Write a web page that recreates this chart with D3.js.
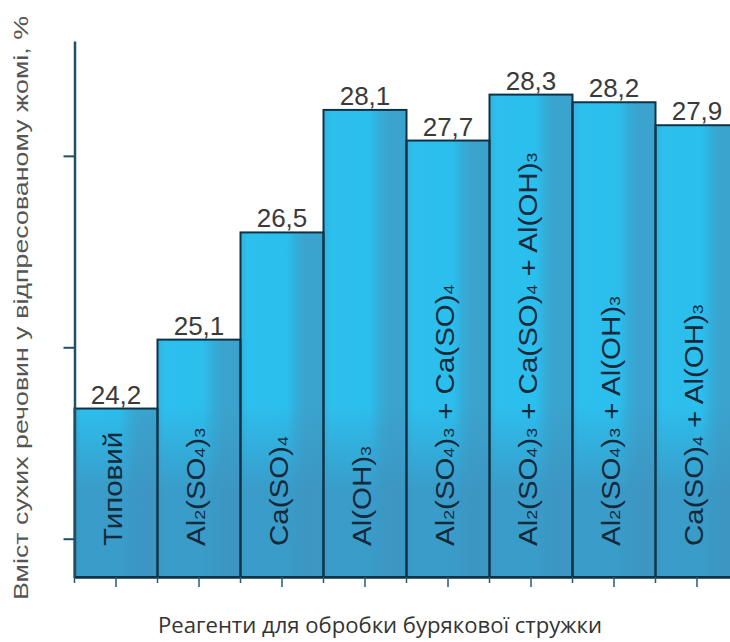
<!DOCTYPE html>
<html><head><meta charset="utf-8">
<script src="https://cdn.jsdelivr.net/npm/d3@7"></script>
<style>html,body{margin:0;padding:0;background:#fff;}svg{display:block;}</style>
</head><body>
<svg id="c" width="730" height="642"></svg>
<script>
// ---- data ----
const categories = [
  "Типовий",
  "Al_2(SO_4)_3",
  "Ca(SO)_4",
  "Al(OH)_3",
  "Al_2(SO_4)_3 + Ca(SO)_4",
  "Al_2(SO_4)_3 + Ca(SO)_4 + Al(OH)_3",
  "Al_2(SO_4)_3 + Al(OH)_3",
  "Ca(SO)_4 + Al(OH)_3"
];
const values = [24.2, 25.1, 26.5, 28.1, 27.7, 28.3, 28.2, 27.9];
const valueLabels = ["24,2", "25,1", "26,5", "28,1", "27,7", "28,3", "28,2", "27,9"];
const yDomain = [22, 29];
const yTicks = [22.5, 25, 27.5];
const yTitle = "Вміст сухих речовин у відпресованому жомі, %";
const xTitle = "Реагенти для обробки бурякової стружки";

// ---- layout ----
const svg = d3.select("#c");
const x0 = 74.5, bw = 83, yTop = 41, yBot = 577;
const idx = d3.range(categories.length);
const x = d3.scaleBand().domain(idx).range([x0, x0 + bw * categories.length]).padding(0);
const y = d3.scaleLinear().domain(yDomain).range([yBot, yTop]);

const defs = svg.append("defs");
const hg = defs.append("linearGradient").attr("id", "hg").attr("x1", 0).attr("x2", 1).attr("y1", 0).attr("y2", 0);
[[0, "#34b0dc"], [0.08, "#2dbfee"], [0.55, "#2bbfee"], [0.68, "#34acd8"], [0.78, "#3aa4cf"], [1, "#3ba2cc"]]
  .forEach(([o, c]) => hg.append("stop").attr("offset", o).attr("stop-color", c));
const vg = defs.append("linearGradient").attr("id", "vg").attr("gradientUnits", "userSpaceOnUse")
  .attr("x1", 0).attr("x2", 0).attr("y1", 405).attr("y2", 490);
vg.append("stop").attr("offset", 0).attr("stop-color", "#3d93c0").attr("stop-opacity", 0);
vg.append("stop").attr("offset", 1).attr("stop-color", "#3d93c0").attr("stop-opacity", 0.8);

// bars
const bars = svg.append("g");
bars.selectAll("rect.b").data(idx).join("rect").attr("class", "b")
  .attr("x", i => x(i)).attr("width", x.bandwidth())
  .attr("y", i => y(values[i])).attr("height", i => yBot - y(values[i]))
  .attr("fill", "url(#hg)");
bars.selectAll("rect.o").data(idx).join("rect").attr("class", "o")
  .attr("x", i => x(i)).attr("width", x.bandwidth())
  .attr("y", i => y(values[i])).attr("height", i => yBot - y(values[i]))
  .attr("fill", "url(#vg)");
bars.selectAll("rect.s").data(idx).join("rect").attr("class", "s")
  .attr("x", i => x(i)).attr("width", x.bandwidth())
  .attr("y", i => y(values[i])).attr("height", i => yBot - y(values[i]))
  .attr("fill", "none").attr("stroke", "#0e3346").attr("stroke-width", 2);

// value labels
svg.append("g").selectAll("text").data(idx).join("text")
  .attr("x", i => x(i) + x.bandwidth() / 2)
  .attr("y", i => y(values[i]) - 5)
  .attr("text-anchor", "middle")
  .attr("font-family", "Liberation Sans, Arial, sans-serif")
  .attr("font-size", 26).attr("fill", "#3a3a3a")
  .text(i => valueLabels[i]);

// rotated category labels with subscripts
function parts(s) {
  const out = []; const re = /_(\d)|([^_]+)/g; let m;
  while ((m = re.exec(s))) out.push(m[1] ? { t: m[1], sub: true } : { t: m[2], sub: false });
  return out;
}
const lab = svg.append("g").selectAll("text").data(idx).join("text")
  .attr("transform", i => `translate(${x(i) + x.bandwidth() / 2 + 6},546) rotate(-90) scale(1.18,1)`)
  .attr("text-anchor", "start")
  .attr("font-family", "Liberation Sans, Arial, sans-serif")
  .attr("font-size", 25).attr("fill", "#14293a");
lab.each(function (i) {
  const t = d3.select(this);
  parts(categories[i]).forEach(p => {
    t.append("tspan").attr("font-size", p.sub ? 15 : 25).text(p.t);
  });
});

// y axis
const yAxis = svg.append("g").attr("transform", `translate(${x0},0)`)
  .call(d3.axisLeft(y).tickValues(yTicks).tickFormat("").tickSize(11).tickSizeOuter(0));
yAxis.select(".domain").attr("stroke", "#1f5068").attr("stroke-width", 2.5);
yAxis.selectAll(".tick line").attr("stroke", "#1f5068").attr("stroke-width", 2);

// x axis
const xAxis = svg.append("g").attr("transform", `translate(0,${yBot})`)
  .call(d3.axisBottom(x).tickFormat("").tickSize(10).tickSizeOuter(0));
xAxis.select(".domain").attr("stroke", "#0e3346").attr("stroke-width", 2.5);
xAxis.selectAll(".tick line").attr("stroke", "#2a5870").attr("stroke-width", 1.5);
svg.append("g").selectAll("line").data(idx).join("line")
  .attr("x1", i => x(i)).attr("x2", i => x(i))
  .attr("y1", yBot).attr("y2", yBot + 6)
  .attr("stroke", "#2a5870").attr("stroke-width", 1.5);

// titles
svg.append("text")
  .attr("transform", "translate(28,308) rotate(-90)")
  .attr("text-anchor", "middle")
  .attr("font-family", "Liberation Sans, Arial, sans-serif")
  .attr("font-size", 21).attr("fill", "#555")
  .attr("textLength", 584).attr("lengthAdjust", "spacingAndGlyphs")
  .text(yTitle);
svg.append("text")
  .attr("x", 380).attr("y", 633)
  .attr("text-anchor", "middle")
  .attr("font-family", "Open Sans, sans-serif")
  .attr("font-size", 22).attr("fill", "#333")
  .attr("textLength", 444).attr("lengthAdjust", "spacingAndGlyphs")
  .text(xTitle);
</script>
</body></html>
